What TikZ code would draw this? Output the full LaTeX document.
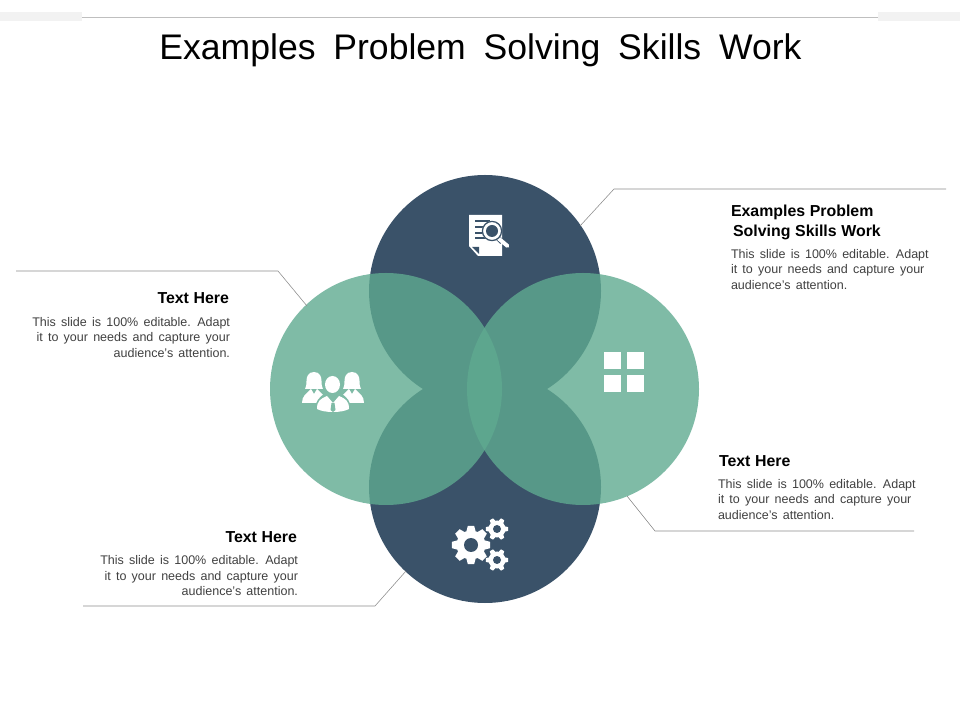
\documentclass[tikz,border=0pt]{standalone}
\usepackage{fontspec}
\setmainfont{Liberation Sans}[WordSpace=1.5]
\definecolor{navy}{HTML}{3A5269}
\definecolor{teal}{HTML}{5FAA90}
\definecolor{lightteal}{HTML}{7FBBA6}
\definecolor{leader}{HTML}{8C8C8C}
\definecolor{bodytext}{HTML}{404040}
\begin{document}
\begin{tikzpicture}[x=0.025cm,y=-0.025cm]
\tikzset{ >=latex, inner sep=0pt, outer sep=0pt,
  bigdisc/.style={circle, minimum size=232*0.025cm},
  leaderline/.style={draw=leader, line width=0.4pt},
  head/.style={font=\fontsize{11.3}{14}\selectfont\bfseries, text=black},
  body/.style={font=\fontsize{8.9}{11.33}\selectfont, text=bodytext},
}
\useasboundingbox (0,0) rectangle (960,720);

% header
\fill [black!5] (0,12) rectangle (82,21);
\fill [black!5] (878,12) rectangle (960,21);
\coordinate (HL) at (82,17);
\coordinate (HR) at (878,17);
\draw [black!25, line width=0.6pt] (HL) -- (HR);
\node [font=\fontsize{25.3}{30}\selectfont] (title) at (480.5,50) {\spaceskip=12.7pt\relax Examples Problem Solving Skills Work};

% circles
\node [bigdisc, fill=navy] (T) at (485,291) {};
\node [bigdisc, fill=navy] (B) at (485,487) {};
\node [bigdisc, fill=teal, fill opacity=0.8] (L) at (386,389) {};
\node [bigdisc, fill=teal, fill opacity=0.8] (R) at (583,389) {};

% leader lines
\coordinate (a1) at (580,226);
\coordinate (a2) at (614,189);
\coordinate (a3) at (946,189);
\coordinate (b1) at (307,306);
\coordinate (b2) at (278,271);
\coordinate (b3) at (16,271);
\coordinate (c1) at (627,496);
\coordinate (c2) at (655,531);
\coordinate (c3) at (914,531);
\coordinate (d1) at (406,571);
\coordinate (d2) at (375,606);
\coordinate (d3) at (83,606);
\draw [leaderline] (a1) -- (a2) -- (a3);
\draw [leaderline] (b1) -- (b2) -- (b3);
\draw [leaderline] (c1) -- (c2) -- (c3);
\draw [leaderline] (d1) -- (d2) -- (d3);

% texts
\node [head, anchor=west, align=left] (headA) at (731,222.5) {Examples\hspace{3.3pt}Problem\\\hspace{1.5pt}Solving\hspace{3.3pt}Skills\hspace{3.3pt}Work};
\node [body, anchor=north west, align=left] (bodyA) at (731,249) {This slide is 100\% editable. Adapt\\it to your needs and capture your\\audience's attention.};
\node [head, anchor=east] (headB) at (229,298.5) {Text\hspace{3.3pt}Here};
\node [body, anchor=north east, align=right] (bodyB) at (230,317) {This slide is 100\% editable. Adapt\\it to your needs and capture your\\audience's attention.};
\node [head, anchor=west] (headC) at (719,461.5) {Text\hspace{3.3pt}Here};
\node [body, anchor=north west, align=left] (bodyC) at (718,479) {This slide is 100\% editable. Adapt\\it to your needs and capture your\\audience's attention.};
\node [head, anchor=east] (headD) at (297,537.5) {Text\hspace{3.3pt}Here};
\node [body, anchor=north east, align=right] (bodyD) at (298,555) {This slide is 100\% editable. Adapt\\it to your needs and capture your\\audience's attention.};

% document icon
\fill [white] (469,215) -- (502,215) -- (502,256) -- (478,256) -- (469,246) -- cycle;
\fill [navy] (472,247) -- (479,247) -- (479,254) -- cycle;
\foreach \y in {221,227,233,238}
  \draw [navy, line width=0.8pt] (475,\y) -- (490,\y);
\draw [navy, line width=3.6pt] (497,237) -- (502,242);
\draw [white, line width=2.8pt, line cap=round] (498,238) -- (507.5,246);
\fill [white] (492,231) circle (10);
\draw [navy, line width=0.9pt] (492,231) circle (9.6);
\fill [navy] (492,231) circle (6);

% windows icon
\foreach \x/\y in {604/352,627/352,604/375,627/375}
  \fill [white] (\x,\y) rectangle ++(17,17);

% people icon
\foreach \x in {314,352} {
  \fill [white] (\x,372) .. controls (\x+6,372) and (\x+7.5,377) .. (\x+7.5,381)
     .. controls (\x+7.5,385) and (\x+8,387) .. (\x+9,389) -- (\x-9,389)
     .. controls (\x-8,387) and (\x-7.5,385) .. (\x-7.5,381)
     .. controls (\x-7.5,377) and (\x-6,372) .. (\x,372);
  \fill [white] (\x-12,403) .. controls (\x-12,396) and (\x-8,394) .. (\x-3,389) -- (\x,394) -- (\x+3,389)
     .. controls (\x+8,394) and (\x+12,396) .. (\x+12,403) -- cycle;
}
\fill [lightteal] (315,414) .. controls (315,400) and (319,397) .. (326,393) -- (340,393)
   .. controls (347,397) and (351,400) .. (351,414) -- cycle;
\fill [lightteal] (332.5,384.5) ellipse (9.5 and 11);
\fill [white] (317,409) .. controls (317,401) and (320,399) .. (327,396) -- (333,403) -- (339,396)
   .. controls (346,399) and (349,401) .. (349,409)
   .. controls (345,411) and (340,412) .. (333,412)
   .. controls (326,412) and (321,411) .. (317,409) -- cycle;
\fill [white] (332.5,384.5) ellipse (7.5 and 8.5);
\fill [lightteal] (331.5,403) -- (334.5,403) -- (335.5,410) -- (333,412) -- (330.5,410) -- cycle;

% gears icon
\foreach \cx/\cy/\rad/\hole/\num in {471/545/14.5/7/8, 497/529/8.5/4/6, 497/560/8.5/4/6} {
  \fill [white] (\cx,\cy) circle (\rad);
  \foreach \i in {1,...,\num}
    \fill [white, shift={(\cx,\cy)}, rotate=360*\i/\num]
      (\rad-1,-\rad*0.32) -- (\rad*1.32,-\rad*0.22) -- (\rad*1.32,\rad*0.22) -- (\rad-1,\rad*0.32) -- cycle;
  \fill [navy] (\cx,\cy) circle (\hole);
}
\end{tikzpicture}
\end{document}
